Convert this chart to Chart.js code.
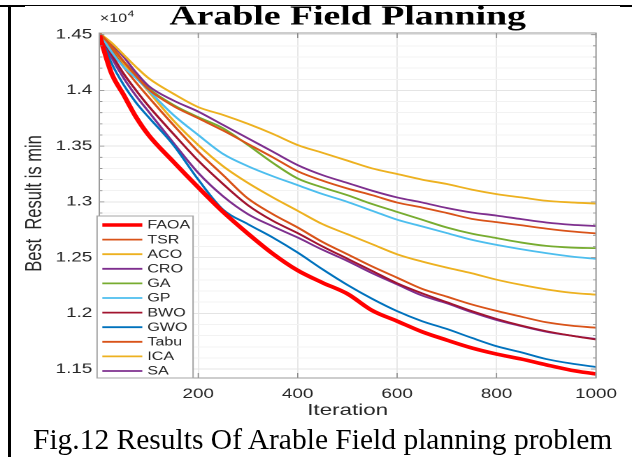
<!DOCTYPE html>
<html>
<head>
<meta charset="utf-8">
<title>Arable Field Planning</title>
<script src="https://cdn.jsdelivr.net/npm/chart.js@4/dist/chart.umd.min.js"></script>
<style>
  html, body { margin: 0; padding: 0; background: #fff; }
  body { width: 632px; height: 457px; position: relative; overflow: hidden; }
  /* the figure is drawn narrow and widened, like a stretched inserted image */
  #plot { position: absolute; left: 0; top: 0; width: 452px; height: 457px;
          transform: scaleX(1.39823); transform-origin: 0 0; }
  .rule { position: absolute; background: #000; }
  #caption { position: absolute; left: 33px; top: 425px; white-space: nowrap;
             font: 29.5px "Liberation Serif", "Times New Roman", serif; line-height: 1; color: #000; }
</style>
</head>
<body>
<div id="plot"><canvas id="chart"></canvas></div>
<div class="rule" style="left:0;top:5px;width:632px;height:1px"></div>
<div class="rule" style="left:0;top:5px;width:25px;height:2px"></div>
<div class="rule" style="left:620px;top:5px;width:12px;height:2px"></div>
<div class="rule" style="left:8px;top:5px;width:3px;height:452px"></div>
<div id="caption">Fig.12 Results Of Arable Field planning problem</div>

<script>
// Iterations at which the convergence curves are sampled
const iterations = [1, 25, 50, 75, 100, 150, 200, 250, 300, 350, 400, 450, 500, 550, 600, 650, 700, 750, 800, 850, 900, 950, 1000];

// Best result found so far, per algorithm
const FAOA = [14500, 14160, 13960, 13760, 13600, 13360, 13130, 12910, 12715, 12535, 12385, 12275, 12175, 12025, 11930, 11835, 11760, 11690, 11635, 11590, 11538, 11490, 11456];
const TSR  = [14515, 14400, 14260, 14130, 14010, 13860, 13750, 13640, 13520, 13400, 13275, 13190, 13120, 13060, 12994, 12950, 12900, 12848, 12818, 12790, 12760, 12735, 12717];
const ACO  = [14515, 14430, 14320, 14210, 14110, 13970, 13850, 13780, 13700, 13610, 13510, 13440, 13370, 13300, 13250, 13200, 13160, 13110, 13070, 13040, 13010, 12995, 12985];
const CRO  = [14515, 14420, 14300, 14160, 14040, 13910, 13810, 13690, 13570, 13450, 13330, 13240, 13170, 13100, 13040, 12995, 12945, 12905, 12877, 12845, 12815, 12795, 12783];
const GA   = [14515, 14400, 14260, 14140, 14020, 13870, 13760, 13660, 13510, 13350, 13210, 13130, 13060, 12980, 12910, 12840, 12770, 12715, 12675, 12635, 12605, 12590, 12585];
const GP   = [14515, 14350, 14210, 14110, 14000, 13780, 13600, 13430, 13320, 13230, 13150, 13070, 13000, 12920, 12840, 12780, 12720, 12660, 12614, 12575, 12540, 12510, 12489];
const BWO  = [14515, 14330, 14150, 14000, 13860, 13610, 13370, 13160, 12970, 12830, 12720, 12600, 12490, 12380, 12270, 12180, 12100, 12020, 11950, 11890, 11840, 11800, 11765];
const GWO  = [14515, 14250, 14050, 13890, 13760, 13510, 13200, 12930, 12800, 12680, 12545, 12395, 12255, 12130, 12020, 11930, 11860, 11780, 11705, 11650, 11590, 11550, 11519];
const Tabu = [14515, 14370, 14210, 14070, 13940, 13690, 13450, 13240, 13030, 12890, 12770, 12640, 12530, 12420, 12320, 12220, 12150, 12080, 12022, 11970, 11920, 11890, 11871];
const ICA  = [14515, 14380, 14240, 14120, 13990, 13730, 13510, 13320, 13170, 13040, 12920, 12800, 12710, 12620, 12530, 12465, 12410, 12360, 12302, 12255, 12215, 12185, 12168];
const SA   = [14515, 14300, 14110, 13950, 13810, 13530, 13260, 13050, 12890, 12780, 12680, 12570, 12470, 12360, 12260, 12160, 12090, 12010, 11940, 11885, 11835, 11800, 11770];

const seriesNames  = ['FAOA', 'TSR', 'ACO', 'CRO', 'GA', 'GP', 'BWO', 'GWO', 'Tabu', 'ICA', 'SA'];
const seriesValues = [FAOA, TSR, ACO, CRO, GA, GP, BWO, GWO, Tabu, ICA, SA];
const seriesColors = ['#ff0000', '#d95319', '#edb120', '#7e2f8e', '#77ac30', '#4dbeee',
                      '#a2142f', '#0072bd', '#d95319', '#edb120', '#7e2f8e'];

// Axis ticks and limits
const xTickValues = [200, 400, 600, 800, 1000];
const xTickLabels = ['200', '400', '600', '800', '1000'];
const yMajorValues = [11500, 12000, 12500, 13000, 13500, 14000, 14500];
const yTickLabels  = ['1.15', '1.2', '1.25', '1.3', '1.35', '1.4', '1.45'];
const yMinorStep = 100;
const yLimits = [11420, 14515];

const STRETCH = 632 / 452;
const SANS = '"Liberation Sans", Arial, Helvetica, sans-serif';
const SERIF = '"Liberation Serif", "Times New Roman", serif';
const TEXT = '#262626';

const yGridValues = [];
for (let v = yMajorValues[0]; v <= yMajorValues[yMajorValues.length - 1]; v += yMinorStep) yGridValues.push(v);

const datasets = seriesNames.map((name, i) => ({
  label: name,
  data: iterations.map((it, k) => ({ x: it, y: seriesValues[i][k] })),
  borderColor: seriesColors[i],
  backgroundColor: seriesColors[i],
  borderWidth: name === 'FAOA' ? 3.6 : 1.8,
  pointRadius: 0,
  cubicInterpolationMode: 'monotone',
  fill: false
}));

// MATLAB-like box, inward ticks, legend, titles
const figureDecor = {
  id: 'figureDecor',
  afterDraw(chart) {
    const { ctx, chartArea: a, scales: { x, y } } = chart;
    ctx.save();

    ctx.strokeStyle = '#8a8a8a';
    ctx.lineWidth = 0.8;
    ctx.beginPath();
    xTickValues.forEach(v => {
      const px = x.getPixelForValue(v);
      ctx.moveTo(px, a.top); ctx.lineTo(px, a.top + 5);
      ctx.moveTo(px, a.bottom); ctx.lineTo(px, a.bottom - 5);
    });
    y.ticks.forEach(t => {
      const py = y.getPixelForValue(t.value);
      const len = yMajorValues.includes(t.value) ? 3.6 : 2.2;
      ctx.moveTo(a.left, py); ctx.lineTo(a.left + len, py);
      ctx.moveTo(a.right, py); ctx.lineTo(a.right - len, py);
    });
    ctx.stroke();

    ctx.strokeStyle = '#9a9a9a';
    ctx.lineWidth = 1;
    ctx.strokeRect(a.left, a.top, a.right - a.left, a.bottom - a.top);

    // legend, lower-left corner of the axes
    const lx = a.left - 1.6, lw = 96 / STRETCH, lh = 162;
    const ly = a.bottom - lh;
    ctx.fillStyle = '#fff';
    ctx.fillRect(lx, ly, lw, lh);
    ctx.strokeStyle = '#a6a6a6';
    ctx.lineWidth = 1;
    ctx.strokeRect(lx, ly, lw, lh);
    ctx.font = '11.5px ' + SANS;
    ctx.textBaseline = 'middle';
    ctx.textAlign = 'left';
    chart.data.datasets.forEach((ds, i) => {
      const ry = ly + 9 + i * 14.6;
      ctx.strokeStyle = ds.borderColor;
      ctx.lineWidth = ds.borderWidth;
      ctx.beginPath();
      ctx.moveTo(lx + 3 / STRETCH + 1.6, ry);
      ctx.lineTo(lx + 43 / STRETCH + 1.6, ry);
      ctx.stroke();
      ctx.fillStyle = TEXT;
      ctx.fillText(ds.label, lx + 48 / STRETCH + 1.6, ry + 0.5);
    });

    const cx = (a.left + a.right) / 2;

    // title
    ctx.fillStyle = '#000';
    ctx.font = 'bold 27px ' + SERIF;
    ctx.textAlign = 'center';
    ctx.textBaseline = 'alphabetic';
    ctx.fillText('Arable Field Planning', cx, 24.5);

    // exponent label
    ctx.fillStyle = TEXT;
    ctx.textAlign = 'left';
    ctx.font = '11.5px ' + SANS;
    const ex = a.left + 0.4;
    ctx.fillText('\u00d710', ex, 22);
    const w = ctx.measureText('\u00d710').width;
    ctx.font = '8.5px ' + SANS;
    ctx.fillText('4', ex + w + 0.3, 16.5);

    // axis titles
    ctx.font = '16px ' + SANS;
    ctx.textAlign = 'center';
    ctx.textBaseline = 'middle';
    ctx.fillText('Iteration', cx, 410.5);

    ctx.translate(35 / STRETCH, (a.top + 170.5));
    ctx.rotate(-Math.PI / 2);
    ctx.font = '16.5px ' + SANS;
    ctx.fillText('Best  Result is min', 0, 0);

    ctx.restore();
  }
};

new Chart(document.getElementById('chart'), {
  type: 'line',
  data: { datasets },
  plugins: [figureDecor],
  options: {
    responsive: true,
    maintainAspectRatio: false,
    animation: false,
    devicePixelRatio: 2,
    layout: { padding: { left: 0, top: 33, right: 452 - 596 / STRETCH, bottom: 0 } },
    plugins: { legend: { display: false }, title: { display: false }, tooltip: { enabled: false } },
    scales: {
      x: {
        type: 'linear',
        min: 1,
        max: 1000,
        afterBuildTicks: s => { s.ticks = xTickValues.map(v => ({ value: v })); },
        afterFit: s => { s.height = 79; },
        grid: { color: '#e2e2e2', lineWidth: 0.8, drawTicks: false },
        border: { display: false },
        ticks: {
          color: TEXT, font: { family: SANS, size: 13.5 }, padding: 8, maxRotation: 0, autoSkip: false,
          callback: v => xTickLabels[xTickValues.indexOf(v)]
        }
      },
      y: {
        type: 'linear',
        min: yLimits[0],
        max: yLimits[1],
        afterBuildTicks: s => { s.ticks = yGridValues.map(v => ({ value: v })); },
        afterFit: s => { s.width = 99.3 / STRETCH; },
        grid: {
          drawTicks: false,
          lineWidth: 1,
          color: c => (c.tick && yMajorValues.includes(c.tick.value)) ? '#e4e4e4' : '#f2f2f2'
        },
        border: { display: false },
        ticks: {
          color: TEXT,
          font: { family: SANS, size: 13.5 },
          padding: 5,
          autoSkip: false,
          callback: v => {
            const k = yMajorValues.indexOf(v);
            return k >= 0 ? yTickLabels[k] : '';
          }
        }
      }
    }
  }
});
</script>
</body>
</html>
